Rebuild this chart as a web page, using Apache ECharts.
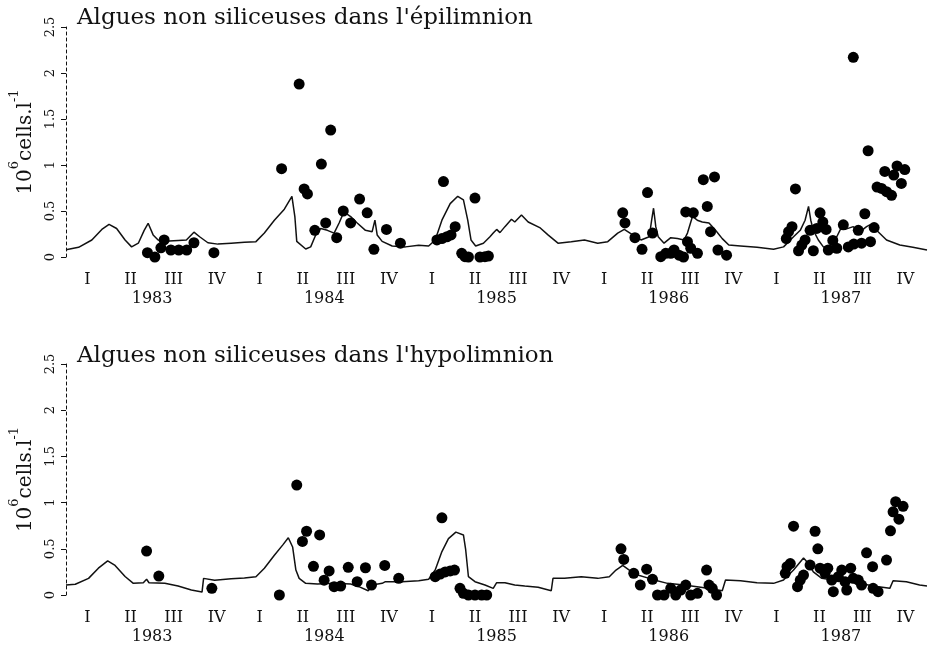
<!DOCTYPE html>
<html>
<head>
<meta charset="utf-8">
<title>Algues non siliceuses</title>
<script src="https://cdn.jsdelivr.net/npm/echarts@6/dist/echarts.min.js"></script>
<style>
  html, body { margin: 0; padding: 0; background: #fff; }
  #chart { width: 935px; height: 649px; }
</style>
</head>
<body>
<div id="chart"></div>
<script>
// annees et trimestres
var years = ['1983', '1984', '1985', '1986', '1987'];
var quarters = ['I', 'II', 'III', 'IV'];

// modele, epilimnion  [annee decimale, 10^6 cells/l]
var epiModel = [
  [1983.000,0.08],[1983.073,0.105],[1983.150,0.185],[1983.208,0.30],[1983.250,0.355],[1983.294,0.31],
  [1983.343,0.185],[1983.381,0.11],[1983.420,0.15],[1983.454,0.29],[1983.477,0.366],[1983.506,0.24],
  [1983.535,0.185],[1983.574,0.17],[1983.651,0.18],[1983.699,0.185],[1983.743,0.27],[1983.776,0.22],
  [1983.824,0.155],[1983.882,0.14],[1983.959,0.15],[1984.036,0.16],[1984.103,0.167],[1984.152,0.26],
  [1984.210,0.40],[1984.268,0.52],[1984.312,0.66],[1984.329,0.44],[1984.340,0.17],[1984.392,0.087],
  [1984.421,0.11],[1984.450,0.24],[1984.479,0.31],[1984.518,0.29],[1984.557,0.26],[1984.586,0.37],
  [1984.614,0.49],[1984.653,0.44],[1984.691,0.37],[1984.739,0.29],[1984.778,0.275],[1984.794,0.40],
  [1984.807,0.24],[1984.836,0.17],[1984.894,0.12],[1984.971,0.11],[1985.048,0.127],[1985.106,0.12],
  [1985.144,0.185],[1985.183,0.40],[1985.231,0.58],[1985.275,0.66],[1985.308,0.62],[1985.333,0.40],
  [1985.352,0.185],[1985.379,0.12],[1985.424,0.15],[1985.462,0.22],[1985.481,0.26],[1985.501,0.30],
  [1985.520,0.265],[1985.549,0.33],[1985.587,0.41],[1985.606,0.38],[1985.645,0.456],[1985.684,0.38],
  [1985.751,0.32],[1985.799,0.24],[1985.857,0.15],[1985.934,0.167],[1986.011,0.185],[1986.088,0.15],
  [1986.146,0.167],[1986.204,0.26],[1986.242,0.30],[1986.291,0.24],[1986.339,0.185],[1986.387,0.22],
  [1986.401,0.40],[1986.412,0.53],[1986.425,0.33],[1986.439,0.22],[1986.473,0.15],[1986.512,0.21],
  [1986.551,0.20],[1986.589,0.185],[1986.609,0.26],[1986.638,0.44],[1986.666,0.40],[1986.695,0.38],
  [1986.734,0.37],[1986.772,0.29],[1986.811,0.20],[1986.849,0.13],[1986.917,0.12],[1987.013,0.105],
  [1987.109,0.084],[1987.167,0.11],[1987.225,0.22],[1987.264,0.29],[1987.292,0.40],[1987.312,0.55],
  [1987.325,0.40],[1987.340,0.29],[1987.369,0.185],[1987.398,0.11],[1987.437,0.11],[1987.476,0.22],
  [1987.505,0.33],[1987.524,0.30],[1987.572,0.33],[1987.601,0.26],[1987.649,0.33],[1987.668,0.35],
  [1987.707,0.29],[1987.765,0.185],[1987.842,0.13],[1987.918,0.105],[1988.000,0.076]
];

// mesures, epilimnion
var epiObs = [
  [1983.473,0.047],[1983.516,0.0],[1983.551,0.10],[1983.570,0.185],[1983.609,0.076],[1983.655,0.076],
  [1983.701,0.076],[1983.743,0.155],[1983.859,0.047],
  [1984.252,0.96],[1984.354,1.88],[1984.383,0.74],[1984.402,0.685],[1984.445,0.29],[1984.483,1.01],
  [1984.508,0.37],[1984.537,1.38],[1984.572,0.21],[1984.610,0.50],[1984.653,0.37],[1984.705,0.63],
  [1984.749,0.48],[1984.788,0.084],[1984.861,0.30],[1984.942,0.15],
  [1985.154,0.185],[1985.183,0.20],[1985.192,0.82],[1985.212,0.22],[1985.236,0.24],[1985.260,0.33],
  [1985.298,0.04],[1985.317,0.003],[1985.337,0.0],[1985.375,0.64],[1985.404,0.0],[1985.433,0.003],
  [1985.453,0.01],
  [1986.233,0.48],[1986.246,0.37],[1986.304,0.21],[1986.345,0.084],[1986.377,0.70],[1986.406,0.26],
  [1986.454,0.003],[1986.483,0.04],[1986.512,0.04],[1986.531,0.076],[1986.560,0.02],[1986.586,0.0],
  [1986.599,0.49],[1986.609,0.167],[1986.628,0.095],[1986.643,0.48],[1986.667,0.04],[1986.701,0.84],
  [1986.724,0.55],[1986.743,0.275],[1986.766,0.87],[1986.786,0.076],[1986.836,0.02],
  [1987.183,0.20],[1987.196,0.275],[1987.216,0.33],[1987.236,0.74],[1987.254,0.068],[1987.273,0.13],
  [1987.292,0.185],[1987.321,0.29],[1987.340,0.068],[1987.360,0.31],[1987.379,0.48],[1987.395,0.38],
  [1987.414,0.30],[1987.427,0.076],[1987.453,0.18],[1987.476,0.095],[1987.514,0.35],[1987.543,0.11],
  [1987.572,2.17],[1987.575,0.14],[1987.601,0.29],[1987.620,0.15],[1987.639,0.47],[1987.658,1.155],
  [1987.672,0.167],[1987.693,0.32],[1987.710,0.76],[1987.736,0.745],[1987.755,0.93],[1987.765,0.71],
  [1987.794,0.67],[1987.807,0.89],[1987.826,0.99],[1987.851,0.80],[1987.871,0.95]
];

// modele, hypolimnion
var hypoModel = [
  [1983.000,0.108],[1983.054,0.116],[1983.131,0.18],[1983.188,0.29],[1983.242,0.37],[1983.285,0.32],
  [1983.343,0.20],[1983.391,0.126],[1983.449,0.133],[1983.468,0.17],[1983.482,0.133],[1983.574,0.126],
  [1983.651,0.097],[1983.728,0.054],[1983.790,0.032],[1983.799,0.18],[1983.863,0.16],[1983.959,0.176],
  [1984.036,0.184],[1984.103,0.198],[1984.152,0.29],[1984.210,0.43],[1984.258,0.54],[1984.291,0.62],
  [1984.316,0.52],[1984.335,0.27],[1984.354,0.18],[1984.392,0.126],[1984.460,0.119],[1984.557,0.126],
  [1984.653,0.119],[1984.701,0.09],[1984.755,0.046],[1984.778,0.108],[1984.836,0.126],[1984.855,0.144],
  [1984.951,0.144],[1985.048,0.155],[1985.106,0.17],[1985.144,0.27],[1985.183,0.47],[1985.221,0.61],
  [1985.264,0.68],[1985.308,0.65],[1985.321,0.49],[1985.337,0.198],[1985.375,0.144],[1985.433,0.108],
  [1985.481,0.072],[1985.501,0.133],[1985.549,0.133],[1985.606,0.108],[1985.664,0.097],[1985.742,0.083],
  [1985.818,0.046],[1985.828,0.18],[1985.895,0.18],[1985.992,0.198],[1986.088,0.18],[1986.155,0.198],
  [1986.194,0.27],[1986.233,0.32],[1986.271,0.27],[1986.320,0.216],[1986.387,0.18],[1986.416,0.162],
  [1986.493,0.126],[1986.589,0.108],[1986.686,0.083],[1986.762,0.062],[1986.811,0.046],[1986.830,0.162],
  [1986.917,0.155],[1987.013,0.133],[1987.109,0.126],[1987.167,0.162],[1987.225,0.27],[1987.283,0.40],
  [1987.312,0.34],[1987.340,0.25],[1987.389,0.18],[1987.456,0.162],[1987.533,0.144],[1987.610,0.126],
  [1987.687,0.097],[1987.784,0.072],[1987.803,0.155],[1987.880,0.144],[1987.957,0.108],[1988.000,0.097]
];

// mesures, hypolimnion
var hypoObs = [
  [1983.468,0.475],[1983.539,0.205],[1983.847,0.072],
  [1984.239,0.0],[1984.340,1.19],[1984.373,0.58],[1984.397,0.69],[1984.437,0.31],[1984.473,0.65],
  [1984.499,0.16],[1984.528,0.26],[1984.557,0.09],[1984.595,0.097],[1984.639,0.30],[1984.691,0.144],
  [1984.739,0.295],[1984.774,0.108],[1984.851,0.32],[1984.932,0.18],
  [1985.144,0.198],[1985.173,0.227],[1985.183,0.835],[1985.202,0.25],[1985.231,0.26],[1985.256,0.27],
  [1985.288,0.072],[1985.308,0.018],[1985.337,0.0],[1985.375,0.0],[1985.414,0.0],[1985.443,0.0],
  [1986.223,0.50],[1986.239,0.385],[1986.297,0.235],[1986.335,0.108],[1986.372,0.28],[1986.406,0.17],
  [1986.435,0.0],[1986.473,0.0],[1986.512,0.072],[1986.541,0.0],[1986.570,0.054],[1986.599,0.108],
  [1986.628,0.0],[1986.667,0.018],[1986.720,0.27],[1986.734,0.108],[1986.753,0.072],[1986.778,0.0],
  [1987.177,0.235],[1987.187,0.306],[1987.206,0.34],[1987.225,0.745],[1987.248,0.09],[1987.264,0.162],
  [1987.283,0.216],[1987.321,0.324],[1987.350,0.69],[1987.366,0.50],[1987.379,0.29],[1987.408,0.235],
  [1987.424,0.29],[1987.447,0.162],[1987.456,0.036],[1987.485,0.198],[1987.505,0.27],[1987.524,0.144],
  [1987.534,0.054],[1987.557,0.29],[1987.572,0.18],[1987.601,0.162],[1987.620,0.108],[1987.649,0.457],
  [1987.684,0.306],[1987.687,0.072],[1987.716,0.036],[1987.765,0.378],[1987.788,0.695],[1987.803,0.90],
  [1987.818,1.01],[1987.837,0.82],[1987.861,0.96]
];

var ink = '#111';
var serif = 'DejaVu Serif';

var quarterLabels = [];
years.forEach(function () { quarterLabels = quarterLabels.concat(quarters); });

var chart = echarts.init(document.getElementById('chart'));

function xAxes(gridIndex) {
  return [
    { // axe des dates (valeurs)
      type: 'value', gridIndex: gridIndex, min: 1983, max: 1988,
      show: false
    },
    { // trimestres
      type: 'category', gridIndex: gridIndex, data: quarterLabels, boundaryGap: true,
      position: 'bottom',
      axisLine: { show: false }, axisTick: { show: false },
      axisLabel: { interval: 0, margin: 15, color: ink, fontFamily: serif, fontSize: 16 }
    },
    { // annees
      type: 'category', gridIndex: gridIndex, data: years, boundaryGap: true,
      position: 'bottom',
      axisLine: { show: false }, axisTick: { show: false },
      axisLabel: { interval: 0, margin: 34, color: ink, fontFamily: serif, fontSize: 16 }
    }
  ];
}

function yAxis(gridIndex) {
  return {
    type: 'value', gridIndex: gridIndex, min: 0, max: 2.5, interval: 0.5,
    name: '{n|10}{s|6}{n|cells.l}{s|-1}',
    nameLocation: 'middle', nameRotate: 90, nameGap: 30,
    nameTextStyle: {
      rich: {
        n: { fontFamily: serif, fontSize: 20, color: ink, lineHeight: 28, verticalAlign: 'bottom' },
        s: { fontFamily: serif, fontSize: 13, color: ink, lineHeight: 28, verticalAlign: 'top' }
      }
    },
    axisLine: { show: true, lineStyle: { color: ink, width: 1, type: [3, 3] } },
    axisTick: { show: true, inside: false, length: 5, lineStyle: { color: ink } },
    axisLabel: { rotate: 90, margin: 9, color: ink, fontFamily: serif, fontSize: 13 },
    splitLine: { show: false }
  };
}

var lineStyle = { color: ink, width: 1.5 };
var dotStyle = { color: '#000', opacity: 1 };

var option = {
  backgroundColor: '#fff',
  animation: false,
  title: [
    { text: "Algues non siliceuses dans l'épilimnion", left: 72, top: 2,
      textStyle: { fontFamily: serif, fontSize: 23, fontWeight: 'normal', color: ink } },
    { text: "Algues non siliceuses dans l'hypolimnion", left: 72, top: 340,
      textStyle: { fontFamily: serif, fontSize: 23, fontWeight: 'normal', color: ink } }
  ],
  grid: [
    { left: 62, right: 8, top: 27, height: 230 },
    { left: 62, right: 8, top: 364, height: 231 }
  ],
  xAxis: xAxes(0).concat(xAxes(1)),
  yAxis: [yAxis(0), yAxis(1)],
  series: [
    { name: 'modele epi', type: 'line', xAxisIndex: 0, yAxisIndex: 0, data: epiModel,
      showSymbol: false, lineStyle: lineStyle, z: 2 },
    { name: 'mesures epi', type: 'scatter', xAxisIndex: 0, yAxisIndex: 0, data: epiObs,
      symbolSize: 11, itemStyle: dotStyle, z: 3 },
    { name: 'modele hypo', type: 'line', xAxisIndex: 3, yAxisIndex: 1, data: hypoModel,
      showSymbol: false, lineStyle: lineStyle, z: 2 },
    { name: 'mesures hypo', type: 'scatter', xAxisIndex: 3, yAxisIndex: 1, data: hypoObs,
      symbolSize: 11, itemStyle: dotStyle, z: 3 }
  ]
};

chart.setOption(option);
</script>
</body>
</html>
